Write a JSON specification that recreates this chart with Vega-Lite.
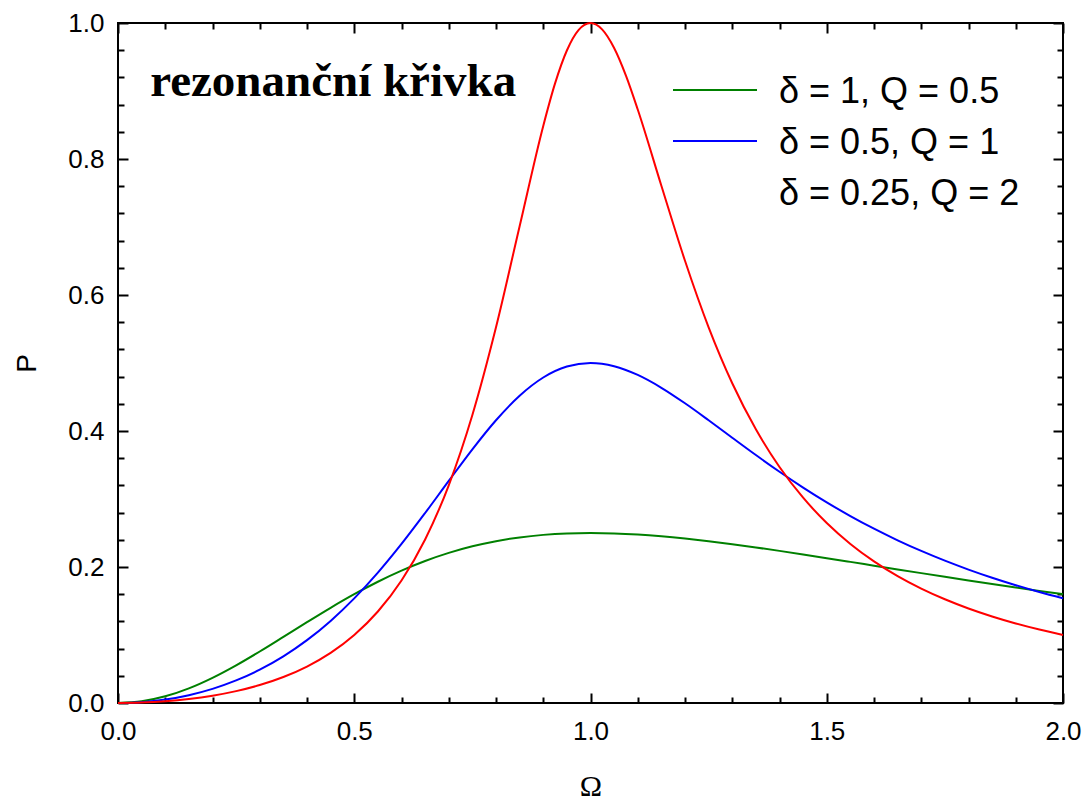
{
  "$schema": "https://vega.github.io/schema/vega-lite/v6.json",
  "width": 945,
  "height": 680,
  "autosize": {"type": "none"},
  "padding": {"left": 118, "top": 23, "right": 21, "bottom": 101},
  "config": {
    "view": {"stroke": "black", "strokeWidth": 2},
    "axis": {"grid": false, "domain": false},
    "font": "Liberation Sans"
  },
  "resolve": {"axis": {"x": "independent", "y": "independent"}},
  "layer": [
    {
      "data": {"values": [
        {"omega": 0, "delta_1": 0, "delta_0_5": 0, "delta_0_25": 0},
        {"omega": 0.05, "delta_1": 0.002488, "delta_0_5": 0.001253, "delta_0_25": 0.000628},
        {"omega": 0.1, "delta_1": 0.009803, "delta_0_5": 0.00505, "delta_0_25": 0.002544},
        {"omega": 0.15, "delta_1": 0.02152, "delta_0_5": 0.011503, "delta_0_25": 0.005852},
        {"omega": 0.2, "delta_1": 0.036982, "delta_0_5": 0.020799, "delta_0_25": 0.010734},
        {"omega": 0.25, "delta_1": 0.055363, "delta_0_5": 0.033195, "delta_0_25": 0.017467},
        {"omega": 0.3, "delta_1": 0.075751, "delta_0_5": 0.049014, "delta_0_25": 0.026452},
        {"omega": 0.35, "delta_1": 0.097222, "delta_0_5": 0.068627, "delta_0_25": 0.038251},
        {"omega": 0.4, "delta_1": 0.118906, "delta_0_5": 0.092421, "delta_0_25": 0.053648},
        {"omega": 0.45, "delta_1": 0.14004, "delta_0_5": 0.12075, "delta_0_25": 0.073729},
        {"omega": 0.5, "delta_1": 0.16, "delta_0_5": 0.153846, "delta_0_25": 0.1},
        {"omega": 0.55, "delta_1": 0.178307, "delta_0_5": 0.191696, "delta_0_25": 0.134533},
        {"omega": 0.6, "delta_1": 0.194637, "delta_0_5": 0.233888, "delta_0_25": 0.180144},
        {"omega": 0.65, "delta_1": 0.208796, "delta_0_5": 0.279428, "delta_0_25": 0.240534},
        {"omega": 0.7, "delta_1": 0.220711, "delta_0_5": 0.326623, "delta_0_25": 0.320178},
        {"omega": 0.75, "delta_1": 0.2304, "delta_0_5": 0.373057, "delta_0_25": 0.423529},
        {"omega": 0.8, "delta_1": 0.237954, "delta_0_5": 0.4158, "delta_0_25": 0.552486},
        {"omega": 0.85, "delta_1": 0.243511, "delta_0_5": 0.45184, "delta_0_25": 0.701102},
        {"omega": 0.9, "delta_1": 0.247245, "delta_0_5": 0.478667, "delta_0_25": 0.848701},
        {"omega": 0.925, "delta_0_25": 0.911205},
        {"omega": 0.95, "delta_1": 0.249343, "delta_0_5": 0.494788, "delta_0_25": 0.959571},
        {"omega": 0.975, "delta_0_25": 0.989846},
        {"omega": 1.0, "delta_1": 0.25, "delta_0_5": 0.5, "delta_0_25": 1.0},
        {"omega": 1.025, "delta_0_25": 0.990337},
        {"omega": 1.05, "delta_1": 0.249406, "delta_0_5": 0.49528, "delta_0_25": 0.963283},
        {"omega": 1.075, "delta_0_25": 0.922655},
        {"omega": 1.1, "delta_1": 0.247743, "delta_0_5": 0.482418, "delta_0_25": 0.872764},
        {"omega": 1.15, "delta_1": 0.24518, "delta_0_5": 0.463543, "delta_0_25": 0.7607},
        {"omega": 1.2, "delta_1": 0.24187, "delta_0_5": 0.440744, "delta_0_25": 0.650289},
        {"omega": 1.25, "delta_1": 0.237956, "delta_0_5": 0.4158, "delta_0_25": 0.552486},
        {"omega": 1.3, "delta_1": 0.233551, "delta_0_5": 0.390102, "delta_0_25": 0.470176},
        {"omega": 1.35, "delta_1": 0.22877, "delta_0_5": 0.364644, "delta_0_25": 0.402449},
        {"omega": 1.4, "delta_1": 0.223703, "delta_0_5": 0.340089, "delta_0_25": 0.347124},
        {"omega": 1.45, "delta_1": 0.21843, "delta_0_5": 0.316832, "delta_0_25": 0.301887},
        {"omega": 1.5, "delta_1": 0.213018, "delta_0_5": 0.295082, "delta_0_25": 0.264706},
        {"omega": 1.55, "delta_1": 0.207523, "delta_0_5": 0.274916, "delta_0_25": 0.23392},
        {"omega": 1.6, "delta_1": 0.201995, "delta_0_5": 0.256328, "delta_0_25": 0.208225},
        {"omega": 1.65, "delta_1": 0.196471, "delta_0_5": 0.239256, "delta_0_25": 0.186594},
        {"omega": 1.7, "delta_1": 0.190985, "delta_0_5": 0.223611, "delta_0_25": 0.168234},
        {"omega": 1.75, "delta_1": 0.185562, "delta_0_5": 0.20929, "delta_0_25": 0.152529},
        {"omega": 1.8, "delta_1": 0.180224, "delta_0_5": 0.196183, "delta_0_25": 0.138994},
        {"omega": 1.85, "delta_1": 0.174988, "delta_0_5": 0.184183, "delta_0_25": 0.127247},
        {"omega": 1.9, "delta_1": 0.169866, "delta_0_5": 0.17319, "delta_0_25": 0.116986},
        {"omega": 1.95, "delta_1": 0.164867, "delta_0_5": 0.163106, "delta_0_25": 0.107969},
        {"omega": 2.0, "delta_1": 0.16, "delta_0_5": 0.153846, "delta_0_25": 0.1}
      ]},
      "transform": [
        {"fold": ["delta_1", "delta_0_5", "delta_0_25"], "as": ["curve", "P"]},
        {"filter": "isValid(datum.P)"}
      ],
      "mark": {"type": "line", "strokeWidth": 2, "interpolate": "monotone"},
      "encoding": {
        "x": {
          "field": "omega", "type": "quantitative",
          "scale": {"domain": [0, 2], "nice": false, "zero": false},
          "axis": {
            "orient": "bottom", "values": [0, 0.5, 1, 1.5, 2], "format": ".1f",
            "ticks": false, "labelFontSize": 26, "labelFont": "Liberation Sans",
            "labelColor": "black", "labelPadding": 15, "labelFlush": false, "labelOverlap": false,
            "title": "Ω", "titleFont": "Liberation Serif", "titleFontSize": 30,
            "titleFontWeight": "normal", "titleColor": "black", "titlePadding": 27
          }
        },
        "y": {
          "field": "P", "type": "quantitative",
          "scale": {"domain": [0, 1], "nice": false},
          "axis": {
            "orient": "left", "values": [0, 0.2, 0.4, 0.6, 0.8, 1], "format": ".1f",
            "ticks": false, "labelFontSize": 26, "labelFont": "Liberation Sans",
            "labelColor": "black", "labelPadding": 14, "labelFlush": false, "labelOverlap": false,
            "title": "P", "titleFont": "Liberation Sans", "titleFontSize": 28,
            "titleFontWeight": "normal", "titleColor": "black", "titlePadding": 26
          }
        },
        "color": {
          "field": "curve", "type": "nominal",
          "scale": {
            "domain": ["delta_1", "delta_0_5", "delta_0_25"],
            "range": ["#008000", "#0000ff", "#ff0000"]
          },
          "legend": {
            "orient": "none", "legendX": 554, "legendY": 49, "title": null,
            "symbolType": "stroke", "symbolSize": 7056, "symbolStrokeWidth": 2,
            "clipHeight": 36, "rowPadding": 13, "labelOffset": 21,
            "labelFontSize": 36, "labelFont": "Liberation Sans", "labelColor": "black",
            "labelLimit": 500, "padding": 0,
            "labelExpr": "datum.value == 'delta_1' ? 'δ = 1, Q = 0.5' : datum.value == 'delta_0_5' ? 'δ = 0.5, Q = 1' : 'δ = 0.25, Q = 2'",
            "encode": {
              "symbols": {"update": {"opacity": {"signal": "datum.value === 'delta_0_25' ? 0 : 1"}}},
              "labels": {"update": {"dy": {"value": 2}}}
            }
          }
        }
      }
    },
    {
      "data": {"values": [{}]},
      "mark": {"type": "text", "font": "Liberation Serif", "fontWeight": "bold", "fontSize": 47, "align": "left", "baseline": "alphabetic", "color": "black"},
      "encoding": {
        "x": {
          "datum": 0.068, "type": "quantitative",
          "scale": {"domain": [0, 2], "nice": false, "zero": false},
          "axis": {"orient": "bottom", "values": [0, 0.5, 1, 1.5, 2], "labels": false, "title": null, "tickSize": -10, "tickWidth": 2, "tickColor": "black"}
        },
        "y": {
          "datum": 0.893, "type": "quantitative",
          "scale": {"domain": [0, 1], "nice": false},
          "axis": {"orient": "left", "values": [0, 0.2, 0.4, 0.6, 0.8, 1], "labels": false, "title": null, "tickSize": -10, "tickWidth": 2, "tickColor": "black"}
        },
        "text": {"value": "rezonanční křivka"}
      }
    },
    {
      "data": {"values": [{}]},
      "mark": {"type": "point", "opacity": 0},
      "encoding": {
        "x": {
          "datum": 1, "type": "quantitative",
          "scale": {"domain": [0, 2], "nice": false, "zero": false},
          "axis": {"orient": "top", "values": [0, 0.5, 1, 1.5, 2], "labels": false, "title": null, "tickSize": -10, "tickWidth": 2, "tickColor": "black"}
        },
        "y": {
          "datum": 0.5, "type": "quantitative",
          "scale": {"domain": [0, 1], "nice": false},
          "axis": {"orient": "right", "values": [0, 0.2, 0.4, 0.6, 0.8, 1], "labels": false, "title": null, "tickSize": -10, "tickWidth": 2, "tickColor": "black"}
        }
      }
    },
    {
      "data": {"values": [{}]},
      "mark": {"type": "point", "opacity": 0},
      "encoding": {
        "x": {
          "datum": 1, "type": "quantitative",
          "scale": {"domain": [0, 2], "nice": false, "zero": false},
          "axis": {"orient": "bottom", "values": [0.1, 0.2, 0.3, 0.4, 0.6, 0.7, 0.8, 0.9, 1.1, 1.2, 1.3, 1.4, 1.6, 1.7, 1.8, 1.9], "labels": false, "title": null, "tickSize": -6, "tickWidth": 2, "tickColor": "black"}
        },
        "y": {
          "datum": 0.5, "type": "quantitative",
          "scale": {"domain": [0, 1], "nice": false},
          "axis": {"orient": "left", "values": [0.04, 0.08, 0.12, 0.16, 0.24, 0.28, 0.32, 0.36, 0.44, 0.48, 0.52, 0.56, 0.64, 0.68, 0.72, 0.76, 0.84, 0.88, 0.92, 0.96], "labels": false, "title": null, "tickSize": -6, "tickWidth": 2, "tickColor": "black"}
        }
      }
    },
    {
      "data": {"values": [{}]},
      "mark": {"type": "point", "opacity": 0},
      "encoding": {
        "x": {
          "datum": 1, "type": "quantitative",
          "scale": {"domain": [0, 2], "nice": false, "zero": false},
          "axis": {"orient": "top", "values": [0.1, 0.2, 0.3, 0.4, 0.6, 0.7, 0.8, 0.9, 1.1, 1.2, 1.3, 1.4, 1.6, 1.7, 1.8, 1.9], "labels": false, "title": null, "tickSize": -6, "tickWidth": 2, "tickColor": "black"}
        },
        "y": {
          "datum": 0.5, "type": "quantitative",
          "scale": {"domain": [0, 1], "nice": false},
          "axis": {"orient": "right", "values": [0.04, 0.08, 0.12, 0.16, 0.24, 0.28, 0.32, 0.36, 0.44, 0.48, 0.52, 0.56, 0.64, 0.68, 0.72, 0.76, 0.84, 0.88, 0.92, 0.96], "labels": false, "title": null, "tickSize": -6, "tickWidth": 2, "tickColor": "black"}
        }
      }
    }
  ]
}
